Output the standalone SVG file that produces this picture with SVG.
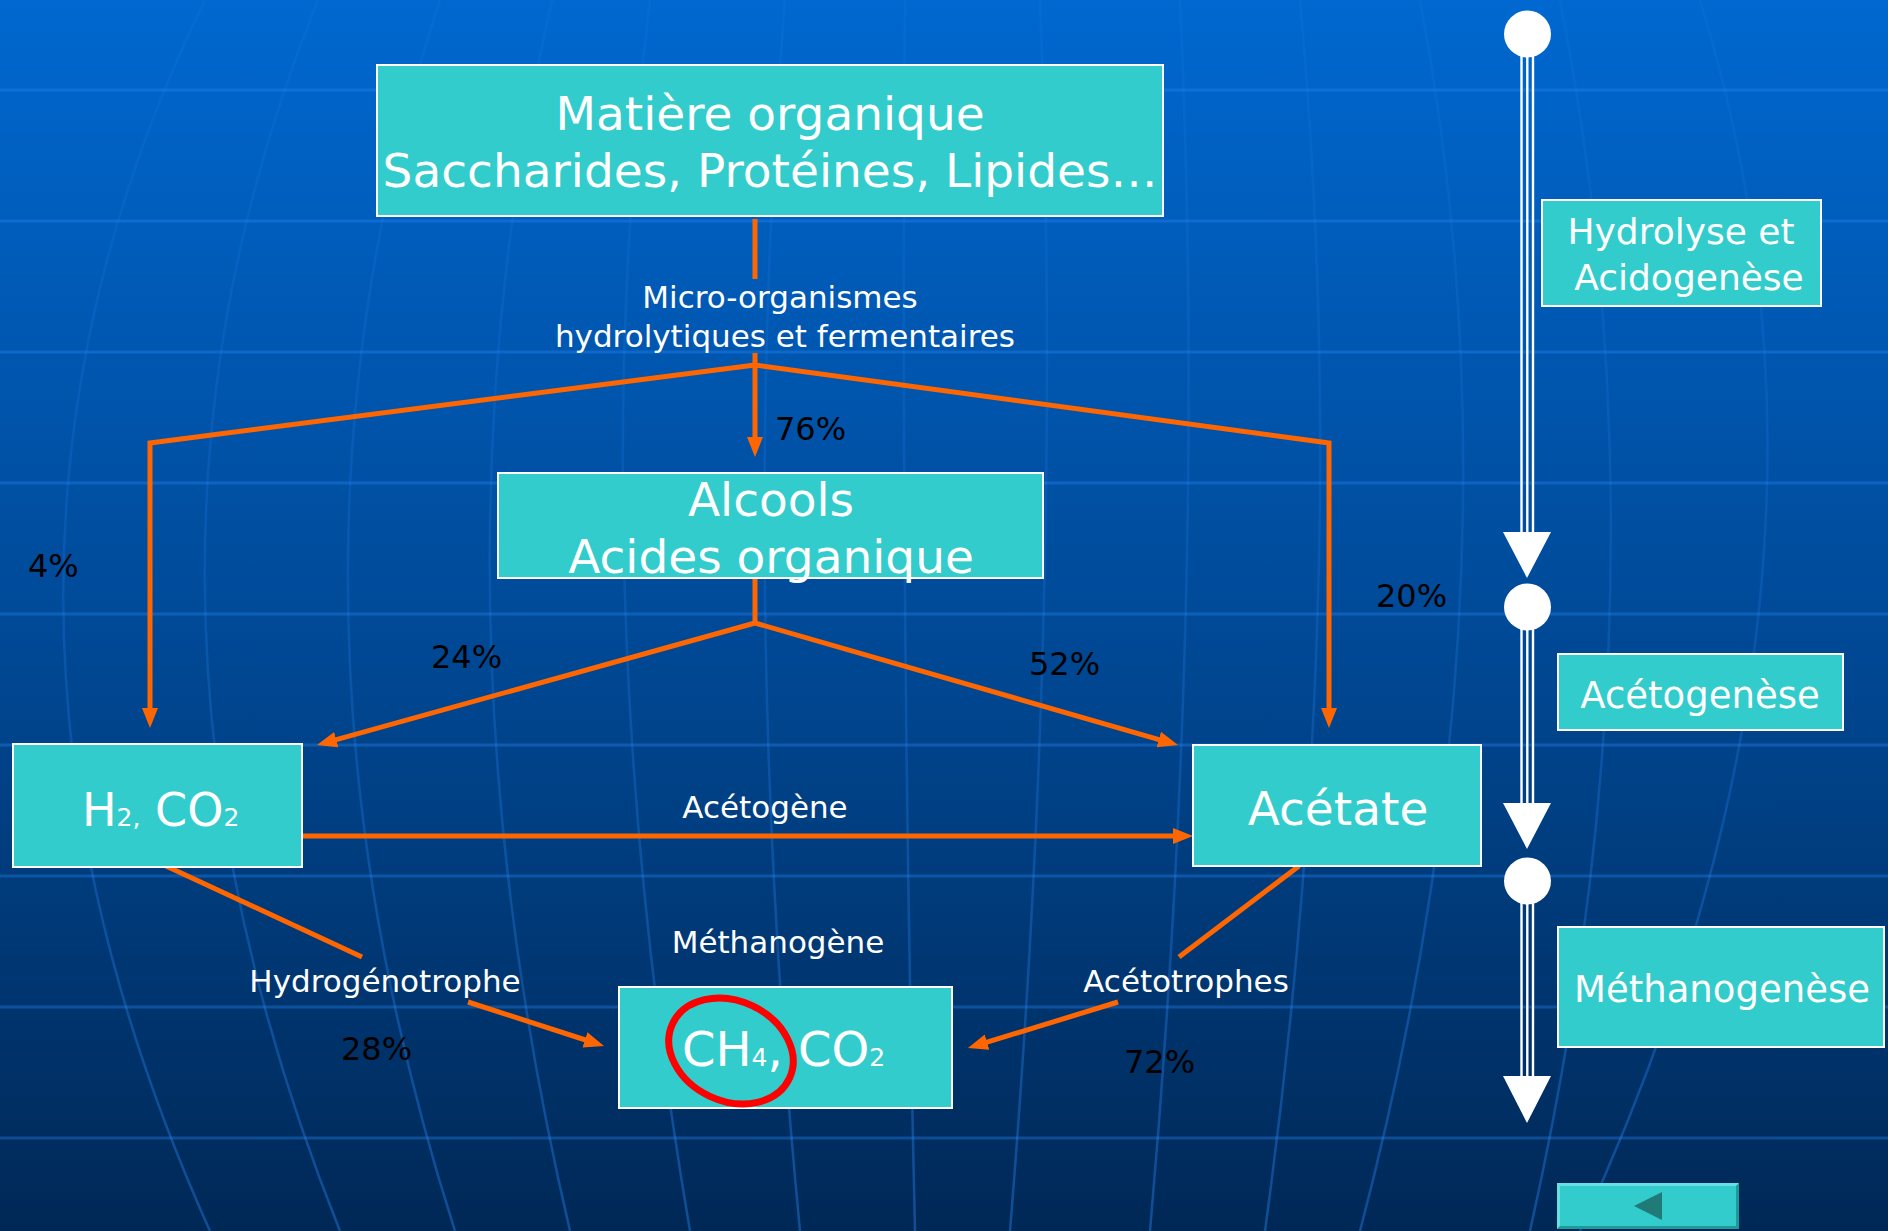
<svg xmlns="http://www.w3.org/2000/svg" width="1888" height="1231" viewBox="0 0 1888 1231">
<defs>
<linearGradient id="bg" x1="0" y1="0" x2="0" y2="1">
<stop offset="0" stop-color="#0068d0"/>
<stop offset="0.5" stop-color="#004a98"/>
<stop offset="1" stop-color="#002856"/>
</linearGradient>
<linearGradient id="merg" gradientUnits="userSpaceOnUse" x1="0" y1="0" x2="0" y2="1231">
<stop offset="0" stop-color="#2a8cff" stop-opacity="0.1"/>
<stop offset="0.45" stop-color="#2a8cff" stop-opacity="0.18"/>
<stop offset="1" stop-color="#2a8cff" stop-opacity="0.38"/>
</linearGradient>
<marker id="ah" markerUnits="userSpaceOnUse" markerWidth="22" markerHeight="18" refX="12" refY="8" orient="auto">
<path d="M0,0 L20,8 L0,16 z" fill="#ff6600"/>
</marker>
<style>
.grid{stroke:#2a8cff;stroke-opacity:0.33;stroke-width:3;fill:none}
.mer{stroke:url(#merg);stroke-width:2.5;fill:none}
.box{fill:#33cccc;stroke:#ffffff;stroke-width:2}
.bt{font-family:"DejaVu Sans","Verdana",sans-serif;fill:#ffffff}
.lbl{font-family:"DejaVu Sans","Verdana",sans-serif;fill:#ffffff;font-size:31px;text-anchor:middle}
.pct{font-family:"DejaVu Sans","Verdana",sans-serif;fill:#000000;font-size:32px}
.con{stroke:#ff6600;stroke-width:5;fill:none}
.arr{stroke:#ff6600;stroke-width:5;fill:none;marker-end:url(#ah)}
.tl{stroke:#ffffff;stroke-width:2.4}
</style>
</defs>
<rect x="0" y="0" width="1888" height="1231" fill="url(#bg)"/>
<g id="background-grid">
<path class="grid" d="M0,90H1888M0,221H1888M0,352H1888M0,483H1888M0,614H1888M0,745H1888M0,876H1888M0,1007H1888M0,1138H1888"/>
<path class="mer" d="M205,0 Q-81,584.5 210,1231"/>
<path class="mer" d="M318,0 Q81,584.5 340,1231"/>
<path class="mer" d="M440,0 Q248.5,584.5 455,1231"/>
<path class="mer" d="M552,0 Q419,584.5 570,1231"/>
<path class="mer" d="M650,0 Q580,584.5 690,1231"/>
<path class="mer" d="M785,0 Q737.5,584.5 800,1231"/>
<path class="mer" d="M905,0 Q900,584.5 915,1231"/>
<path class="mer" d="M1040,0 Q1063,584.5 1010,1231"/>
<path class="mer" d="M1180,0 Q1207,584.5 1150,1231"/>
<path class="mer" d="M1300,0 Q1353.5,584.5 1265,1231"/>
<path class="mer" d="M1420,0 Q1530,584.5 1360,1231"/>
<path class="mer" d="M1560,0 Q1675,584.5 1530,1231"/>
<path class="mer" d="M1700,0 Q1880,584.5 1580,1231"/>
</g>
<g id="connectors">
<path class="con" d="M755,219 V279"/>
<path class="con" d="M755,353 V365"/>
<path class="arr" d="M755,365 V449"/>
<path class="arr" d="M755,365 L150,443 V720"/>
<path class="arr" d="M755,365 L1329,443 V720"/>
<path class="con" d="M755,578 V623"/>
<path class="arr" d="M755,623 L324.7,742.9"/>
<path class="arr" d="M755,623 L1170.3,742.8"/>
<path class="arr" d="M302,836 H1185"/>
<path class="con" d="M166,866 L362,957"/>
<path class="arr" d="M468,1002 L596.4,1043.5"/>
<path class="con" d="M1299,866 L1179,957"/>
<path class="arr" d="M1118,1002 L975.6,1045.7"/>
<text class="lbl" x="780" y="308">Micro-organismes</text>
<text class="lbl" x="785" y="347">hydrolytiques et fermentaires</text>
<text class="lbl" x="765" y="818">Acétogène</text>
<text class="lbl" x="778" y="953">Méthanogène</text>
<text class="lbl" x="385" y="992">Hydrogénotrophe</text>
<text class="lbl" x="1186" y="992">Acétotrophes</text>
<text class="pct" x="775" y="440">76%</text>
<text class="pct" x="28" y="577">4%</text>
<text class="pct" x="1376" y="607">20%</text>
<text class="pct" x="431" y="668">24%</text>
<text class="pct" x="1029" y="675">52%</text>
<text class="pct" x="341" y="1060">28%</text>
<text class="pct" x="1124" y="1073">72%</text>
</g>
<g id="n-matiere">
<rect class="box" x="377" y="65" width="786" height="151"/>
<text class="bt" font-size="47" text-anchor="middle" x="770" y="130">Matière organique</text>
<text class="bt" font-size="47" text-anchor="middle" x="770" y="187">Saccharides, Protéines, Lipides…</text>
</g>
<g id="n-alcools">
<rect class="box" x="498" y="473" width="545" height="105"/>
<text class="bt" font-size="47" text-anchor="middle" x="771" y="516">Alcools</text>
<text class="bt" font-size="47" text-anchor="middle" x="771" y="573">Acides organique</text>
</g>
<g id="n-h2co2">
<rect class="box" x="13" y="744" width="289" height="123"/>
<text class="bt" font-size="46" x="82" y="826">H<tspan font-size="25">2,</tspan> CO<tspan font-size="25">2</tspan></text>
</g>
<g id="n-acetate">
<rect class="box" x="1193" y="745" width="288" height="121"/>
<text class="bt" font-size="47" text-anchor="middle" x="1338" y="825">Acétate</text>
</g>
<g id="n-ch4co2">
<rect class="box" x="619" y="987" width="333" height="121"/>
<text class="bt" font-size="48" x="682" y="1066">CH<tspan font-size="25">4</tspan>, CO<tspan font-size="25">2</tspan></text>
<ellipse cx="731" cy="1051" rx="64.5" ry="50" transform="rotate(25 731 1051)" fill="none" stroke="#ff0000" stroke-width="7"/>
</g>
<g id="timeline">
<circle cx="1527.5" cy="34" r="23.5" fill="#ffffff"/>
<path class="tl" d="M1521.5,56 V533 M1527.3,56 V533 M1533,56 V533"/>
<polygon points="1503,532 1551,532 1527,578" fill="#ffffff"/>
<circle cx="1527.5" cy="607" r="23.5" fill="#ffffff"/>
<path class="tl" d="M1521.5,629 V804 M1527.3,629 V804 M1533,629 V804"/>
<polygon points="1503,803 1551,803 1527,849" fill="#ffffff"/>
<circle cx="1527.5" cy="881" r="23.5" fill="#ffffff"/>
<path class="tl" d="M1521.5,903 V1077 M1527.3,903 V1077 M1533,903 V1077"/>
<polygon points="1503,1076 1551,1076 1527,1123" fill="#ffffff"/>
</g>
<g id="n-hydrolyse">
<rect class="box" x="1542" y="200" width="279" height="106"/>
<text class="bt" font-size="36" text-anchor="middle" x="1681" y="244">Hydrolyse et</text>
<text class="bt" font-size="36" text-anchor="middle" x="1689" y="290">Acidogenèse</text>
</g>
<g id="n-acetogenese">
<rect class="box" x="1558" y="654" width="285" height="76"/>
<text class="bt" font-size="37" text-anchor="middle" x="1700" y="708">Acétogenèse</text>
</g>
<g id="n-methanogenese">
<rect class="box" x="1558" y="927" width="326" height="120"/>
<text class="bt" font-size="37" text-anchor="middle" x="1722" y="1002">Méthanogenèse</text>
</g>
<g id="n-back">
<rect x="1557" y="1183" width="182" height="46" fill="#33cccc"/>
<path d="M1557,1183 H1739 L1736,1186 H1560 V1226 L1557,1229 Z" fill="#66e0e0"/>
<path d="M1739,1183 V1229 H1557 L1560,1226 H1736 V1186 Z" fill="#1f9a98"/>
<polygon points="1634,1206 1662,1192 1662,1220" fill="#1f7a78"/>
</g>
</svg>
